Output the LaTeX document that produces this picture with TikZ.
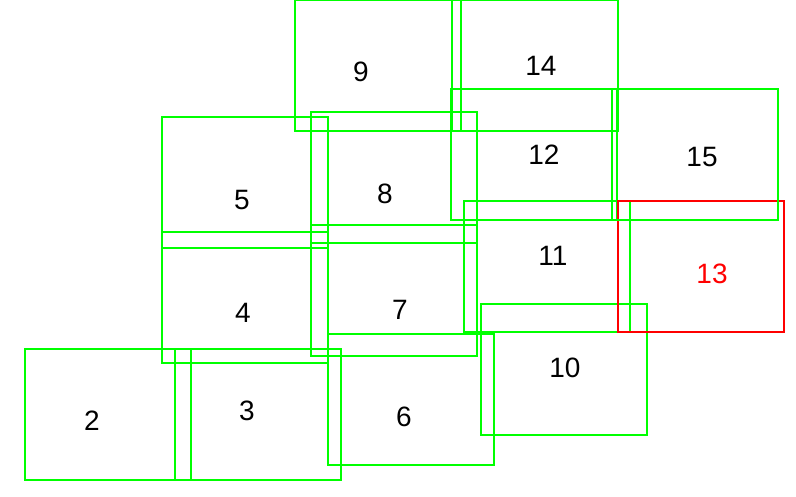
\documentclass[tikz,border=0pt]{standalone}
\usepackage{fontspec}
\newfontfamily\tilefont{Liberation Sans}
\usepackage{xcolor}
\usepackage{tikz}
\usetikzlibrary{positioning}
\definecolor{TileG}{HTML}{00FF00}
\definecolor{TileR}{HTML}{FF0000}

\begin{document}
\begin{tikzpicture}[x=1pt,y=-1pt,
    tile/.style={draw=TileG,line width=2pt,minimum width=166pt,minimum height=131pt,
      inner sep=0pt},
    num/.style={font=\tilefont\fontsize{28}{30}\selectfont,text=black,inner sep=0pt}]
  \useasboundingbox (0,0) rectangle (796,496);
  % tiles
  \node[tile] (t2) at (108,414.5) {};
  \node[tile] (t3) at (258,414.5) {};
  \node[tile] (t4) at (245,297.5) {};
  \node[tile] (t5) at (245,182.5) {};
  \node[tile] (t6) at (411,399.5) {};
  \node[tile] (t7) at (394,290.5) {};
  \node[tile] (t8) at (394,177.5) {};
  \node[tile] (t9) at (378,65.5) {};
  \node[tile] (t10) at (564,369.5) {};
  \node[tile] (t11) at (547,266.5) {};
  \node[tile] (t12) at (534,154.5) {};
  \node[tile,draw=TileR] (t13) at (701,266.5) {};
  \node[tile] (t14) at (535,65.5) {};
  \node[tile] (t15) at (695,154.5) {};
  % numbers
  \node[num] (n2) at (92,421) {2};
  \node[num] (n3) at (247,411) {3};
  \node[num] (n4) at (243,313) {4};
  \node[num] (n5) at (242,200) {5};
  \node[num] (n6) at (404,417) {6};
  \node[num] (n7) at (400,310) {7};
  \node[num] (n8) at (385,194) {8};
  \node[num] (n9) at (361,72) {9};
  \node[num] (n10) at (565,368) {10};
  \node[num] (n11) at (553,256) {11};
  \node[num] (n12) at (544,155) {12};
  \node[num,text=TileR] (n13) at (712,274) {13};
  \node[num] (n14) at (541,65.5) {14};
  \node[num] (n15) at (702,157) {15};
\end{tikzpicture}
\end{document}
